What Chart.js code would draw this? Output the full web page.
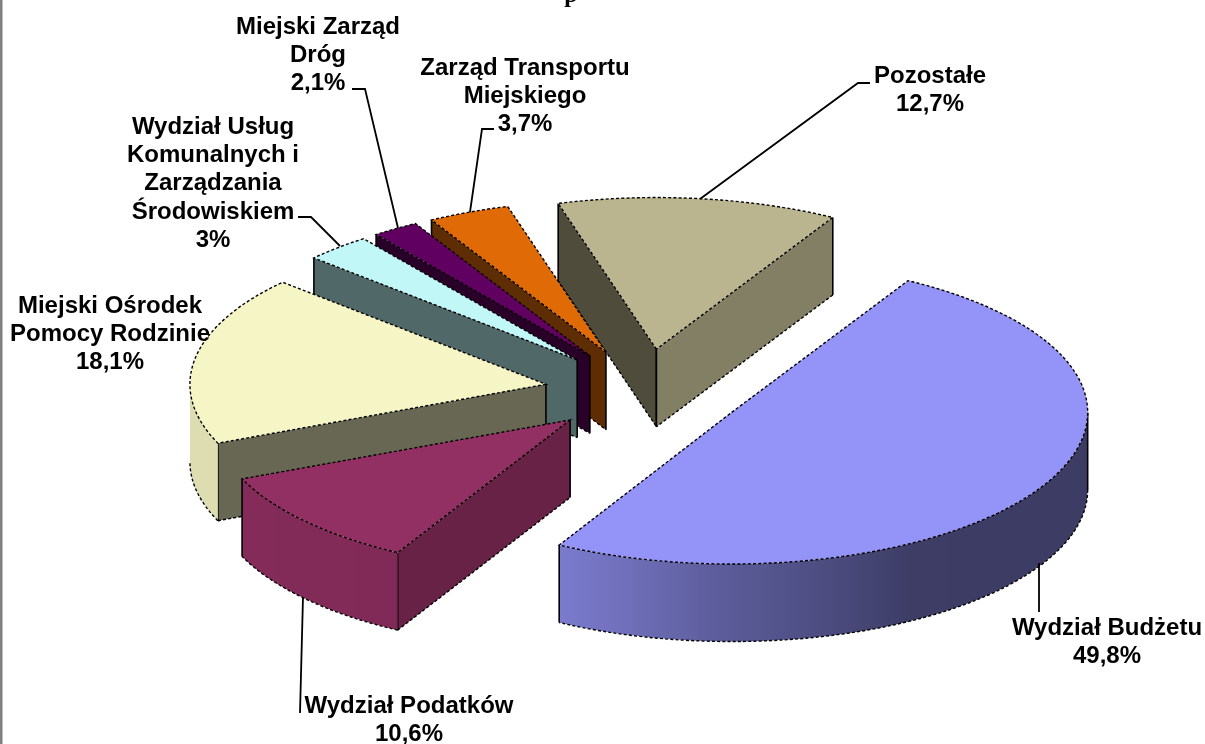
<!DOCTYPE html>
<html><head><meta charset="utf-8">
<style>html,body{margin:0;padding:0;background:#fff}#w{position:relative;width:1205px;height:744px;overflow:hidden}canvas{display:block}</style>
<script src="https://cdn.jsdelivr.net/npm/chart.js@4"></script>
</head><body><div id="w"><canvas id="c" width="1205" height="744"></canvas></div>
<script>
const categories=['Wydział Budżetu','Wydział Podatków','Miejski Ośrodek Pomocy Rodzinie','Wydział Usług Komunalnych i Zarządzania Środowiskiem','Miejski Zarząd Dróg','Zarząd Transportu Miejskiego','Pozostałe'];
const values=[49.8,10.6,18.1,3,2.1,3.7,12.7];
const colors=['#9494f8','#933063','#f5f5c5','#c2f7f7','#600060','#e06a06','#bbb58f'];
const drawOrder=[6,5,4,3,2,1,0];

const TILT=0.426, DEPTH=77.5, EXPLODE=100, RADIUS=356;
const FONT='bold 24px "Liberation Sans", Arial, sans-serif';
const LINE=28.2;
// one entry per category: label lines, centre x, first baseline y, leader polyline
const labelLayout=[
 {lines:['Wydział Budżetu'],x:1107,y:635,lead:[[1039,563],[1039,612]]},
 {lines:['Wydział Podatków'],x:409,y:713,lead:[[303,597],[300,713]]},
 {lines:['Miejski Ośrodek','Pomocy Rodzinie'],x:110,y:313,lead:null},
 {lines:['Wydział Usług','Komunalnych i','Zarządzania','Środowiskiem'],x:213,y:134,lead:[[298,217],[311,217],[340,246]]},
 {lines:['Miejski Zarząd','Dróg'],x:318,y:34,lead:[[352,89],[365,89],[398,228]]},
 {lines:['Zarząd Transportu','Miejskiego'],x:525,y:75,lead:[[494,129],[482,129],[470,212]]},
 {lines:['Pozostałe'],x:930,y:83,lead:[[870,83],[858,83],[700,199]]}
];
const pct=v=>String(v).replace('.',',')+'%';
function shadeColor(hex,f){const n=parseInt(hex.slice(1),16);return `rgb(${Math.round((n>>16&255)*f)},${Math.round((n>>8&255)*f)},${Math.round((n&255)*f)})`;}
// lighting of the rim as a function of the canvas angle (deg)
const rimStops=[[0,.40],[60,.41],[72,.5],[94,.64],[108,.76],[119,.83],[119.5,.88],[157,.9],[180,.9]];
function rimShade(d){for(let i=1;i<rimStops.length;i++){if(d<=rimStops[i][0]){const a=rimStops[i-1],b=rimStops[i];return a[1]+(b[1]-a[1])*(d-a[0])/(b[0]-a[0]);}}return .9;}

const pie3d={id:'pie3d',
 beforeDatasetsDraw(chart){
  const ctx=chart.ctx, meta=chart.getDatasetMeta(0);
  const dotted=()=>{ctx.setLineDash([3,2.2]);ctx.lineWidth=1.4;ctx.strokeStyle='#000';};
  const solid=()=>{ctx.setLineDash([]);ctx.lineWidth=1.6;ctx.strokeStyle='#000';};
  drawOrder.forEach(i=>{
   const arc=meta.data[i], col=colors[i];
   const s=arc.startAngle,e=arc.endAngle,m=(s+e)/2,R=arc.outerRadius;
   const ax=arc.x+EXPLODE*Math.cos(m), ay=arc.y+EXPLODE*Math.sin(m)*TILT;
   const rx=a=>ax+R*Math.cos(a), ry=a=>ay+R*Math.sin(a)*TILT;
   const wall=(a,nx,visible)=>{ if(!visible) return;
     ctx.beginPath();ctx.moveTo(ax,ay);ctx.lineTo(rx(a),ry(a));ctx.lineTo(rx(a),ry(a)+DEPTH);ctx.lineTo(ax,ay+DEPTH);ctx.closePath();
     ctx.fillStyle=shadeColor(col,nx>0.6?.7:.42);ctx.fill();
     dotted();ctx.beginPath();ctx.moveTo(rx(a),ry(a)+DEPTH);ctx.lineTo(ax,ay+DEPTH);ctx.stroke();
     solid();ctx.beginPath();ctx.moveTo(ax,ay);ctx.lineTo(ax,ay+DEPTH);ctx.moveTo(rx(a),ry(a));ctx.lineTo(rx(a),ry(a)+DEPTH);ctx.stroke();
   };
   wall(s,Math.sin(s),-Math.cos(s)>0);
   wall(e,-Math.sin(e),Math.cos(e)>0);
   // rim (visible lower half of the ellipse)
   const T=Math.PI*2;
   [[0,Math.PI],[T,T+Math.PI]].forEach(([lo,hi])=>{
    const a0=Math.max(s,lo),a1=Math.min(e,hi); if(a1<=a0) return;
    const x0=rx(a1),x1=rx(a0);
    const g=ctx.createLinearGradient(x0,0,x1,0);
    for(let k=0;k<=60;k++){const a=a0+(a1-a0)*k/60;const x=rx(a);const t=(x-x0)/((x1-x0)||1);
      g.addColorStop(Math.min(1,Math.max(0,t)),shadeColor(col,rimShade(((a%T)+T)%T*180/Math.PI)));}
    ctx.beginPath();ctx.ellipse(ax,ay,R,R*TILT,0,a0,a1);ctx.ellipse(ax,ay+DEPTH,R,R*TILT,0,a1,a0,true);ctx.closePath();
    ctx.fillStyle=g;ctx.fill();
    dotted();ctx.beginPath();ctx.ellipse(ax,ay+DEPTH,R,R*TILT,0,a0,a1);ctx.stroke();
    solid();
    if(a0===lo){ctx.beginPath();ctx.moveTo(rx(a0),ry(a0));ctx.lineTo(rx(a0),ry(a0)+DEPTH);ctx.stroke();}
    if(a1===e){ctx.beginPath();ctx.moveTo(rx(a1),ry(a1));ctx.lineTo(rx(a1),ry(a1)+DEPTH);ctx.stroke();}
   });
   // top face: the library's own arc element, flattened and moved out
   ctx.save();
   ctx.translate(ax,ay);ctx.scale(1,TILT);ctx.translate(-arc.x,-arc.y);
   arc.draw(ctx);
   ctx.restore();
   dotted();ctx.beginPath();ctx.moveTo(ax,ay);ctx.lineTo(rx(s),ry(s));ctx.ellipse(ax,ay,R,R*TILT,0,s,e);ctx.closePath();ctx.stroke();
   ctx.setLineDash([]);
  });
  return false;
 },
 afterDraw(chart){
  const ctx=chart.ctx;
  ctx.save();
  ctx.strokeStyle='#808080';ctx.lineWidth=2.5;
  ctx.beginPath();ctx.moveTo(1.25,0);ctx.lineTo(1.25,744);ctx.stroke();
  ctx.fillStyle='#000';ctx.textBaseline='alphabetic';ctx.textAlign='center';
  ctx.font='bold 24px "Liberation Serif", serif';
  ctx.fillText('p',571,2);
  ctx.font=FONT;
  categories.forEach((c,i)=>{
   const L=labelLayout[i];
   [...L.lines,pct(values[i])].forEach((t,j)=>ctx.fillText(t,L.x,L.y+j*LINE));
   if(L.lead){ctx.strokeStyle='#000';ctx.lineWidth=1.8;ctx.beginPath();L.lead.forEach((p,k)=>k?ctx.lineTo(p[0],p[1]):ctx.moveTo(p[0],p[1]));ctx.stroke();}
  });
  ctx.restore();
 }
};
new Chart(document.getElementById('c'),{type:'pie',
 data:{labels:categories,datasets:[{data:values,backgroundColor:colors,borderWidth:0}]},
 options:{responsive:false,animation:false,rotation:29.7,radius:RADIUS,
  layout:{padding:{left:84,top:39}},
  plugins:{legend:{display:false},tooltip:{enabled:false}}},
 plugins:[pie3d]});
</script></body></html>
